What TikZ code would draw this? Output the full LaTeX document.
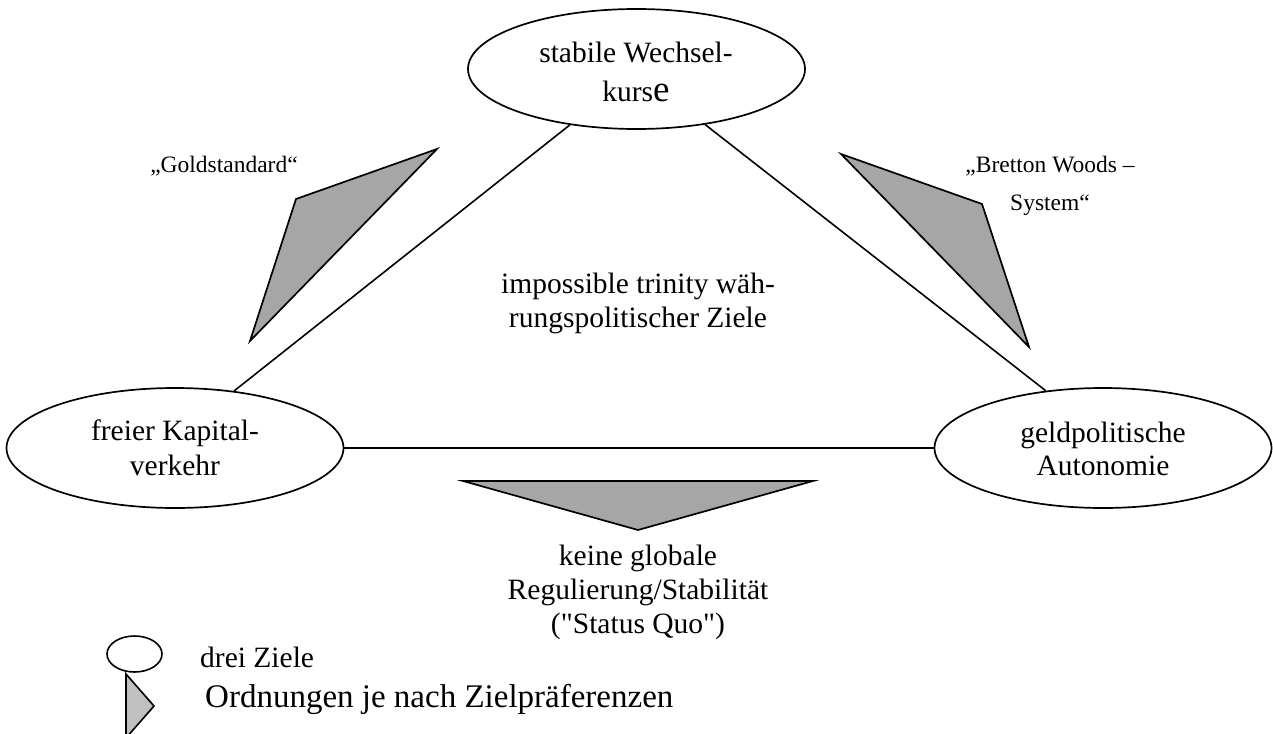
\documentclass[tikz,border=0pt]{standalone}
\usepackage{fontspec}
\setmainfont{Liberation Serif}[Ligatures=TeXOff]
\usetikzlibrary{shapes.geometric}
\definecolor{trifill}{RGB}{166,166,166}
\definecolor{legfill}{RGB}{192,192,192}
\begin{document}
\begin{tikzpicture}[x=1pt,y=-1pt,
  goal/.style={draw, ellipse, line width=1.7pt, inner sep=0pt, minimum width=337pt, minimum height=120pt},
  lbl/.style={font=\fontsize{29.5}{34}\selectfont, align=center, inner sep=0pt, anchor=base},
  sidelbl/.style={font=\fontsize{23.5}{38}\selectfont, align=center, inner sep=0pt, anchor=base},
  conn/.style={line width=1.6pt},
  order/.style={draw, line width=1.7pt, fill=trifill, line join=miter}]
\useasboundingbox (0,0) rectangle (1273,733);

% goals
\node[goal] (top) at (636.5,69) {};
\node[goal] (left) at (175,448) {};
\node[goal] (right) at (1103,448) {};

% connectors
\draw[conn] (top.220) -- (left.44);
\draw[conn] (top.321) -- (right.135);
\draw[conn] (left.east) -- (right.west);

% texts in ellipses (anchor base = last line)
\node[lbl] (toptext) at (636,102) {stabile Wechsel-\\[5pt]kurs{\fontsize{37}{34}\selectfont e}};
\node[lbl, font=\fontsize{29.5}{35}\selectfont] (lefttext) at (175,475) {freier Kapital-\\verkehr};
\node[lbl, font=\fontsize{29.5}{33}\selectfont] (righttext) at (1103,475) {geldpolitische\\Autonomie};

% centre text
\node[lbl] (mid) at (638,327) {impossible trinity wäh-\\rungspolitischer Ziele};

% order triangles
\draw[order] (437,149) -- (296,199) -- (250,341) -- cycle;
\draw[order] (841,154) -- (982,204) -- (1029,347) -- cycle;
\draw[order] (463,481) -- (813,481) -- (638,530) -- cycle;

% order labels
\node[sidelbl] (gold) at (224,172) {„Goldstandard“};
\node[sidelbl] (bw) at (1050,210) {„Bretton Woods –\\System“};
\node[lbl] (sq) at (638,633) {keine globale\\Regulierung/Stabilität\\("Status Quo")};

% legend
\node[draw, ellipse, line width=1.6pt, inner sep=0pt, minimum width=55pt, minimum height=36pt] (legoval) at (134.5,654) {};
\draw[line width=1.6pt, fill=legfill] (126,674) -- (154,706) -- (126,738) -- cycle;
\node[lbl, anchor=base west] (leg1) at (200,667) {drei Ziele};
\node[lbl, anchor=base west, font=\fontsize{33}{38}\selectfont] (leg2) at (205,707) {Ordnungen je nach Zielpräferenzen};
\end{tikzpicture}
\end{document}
